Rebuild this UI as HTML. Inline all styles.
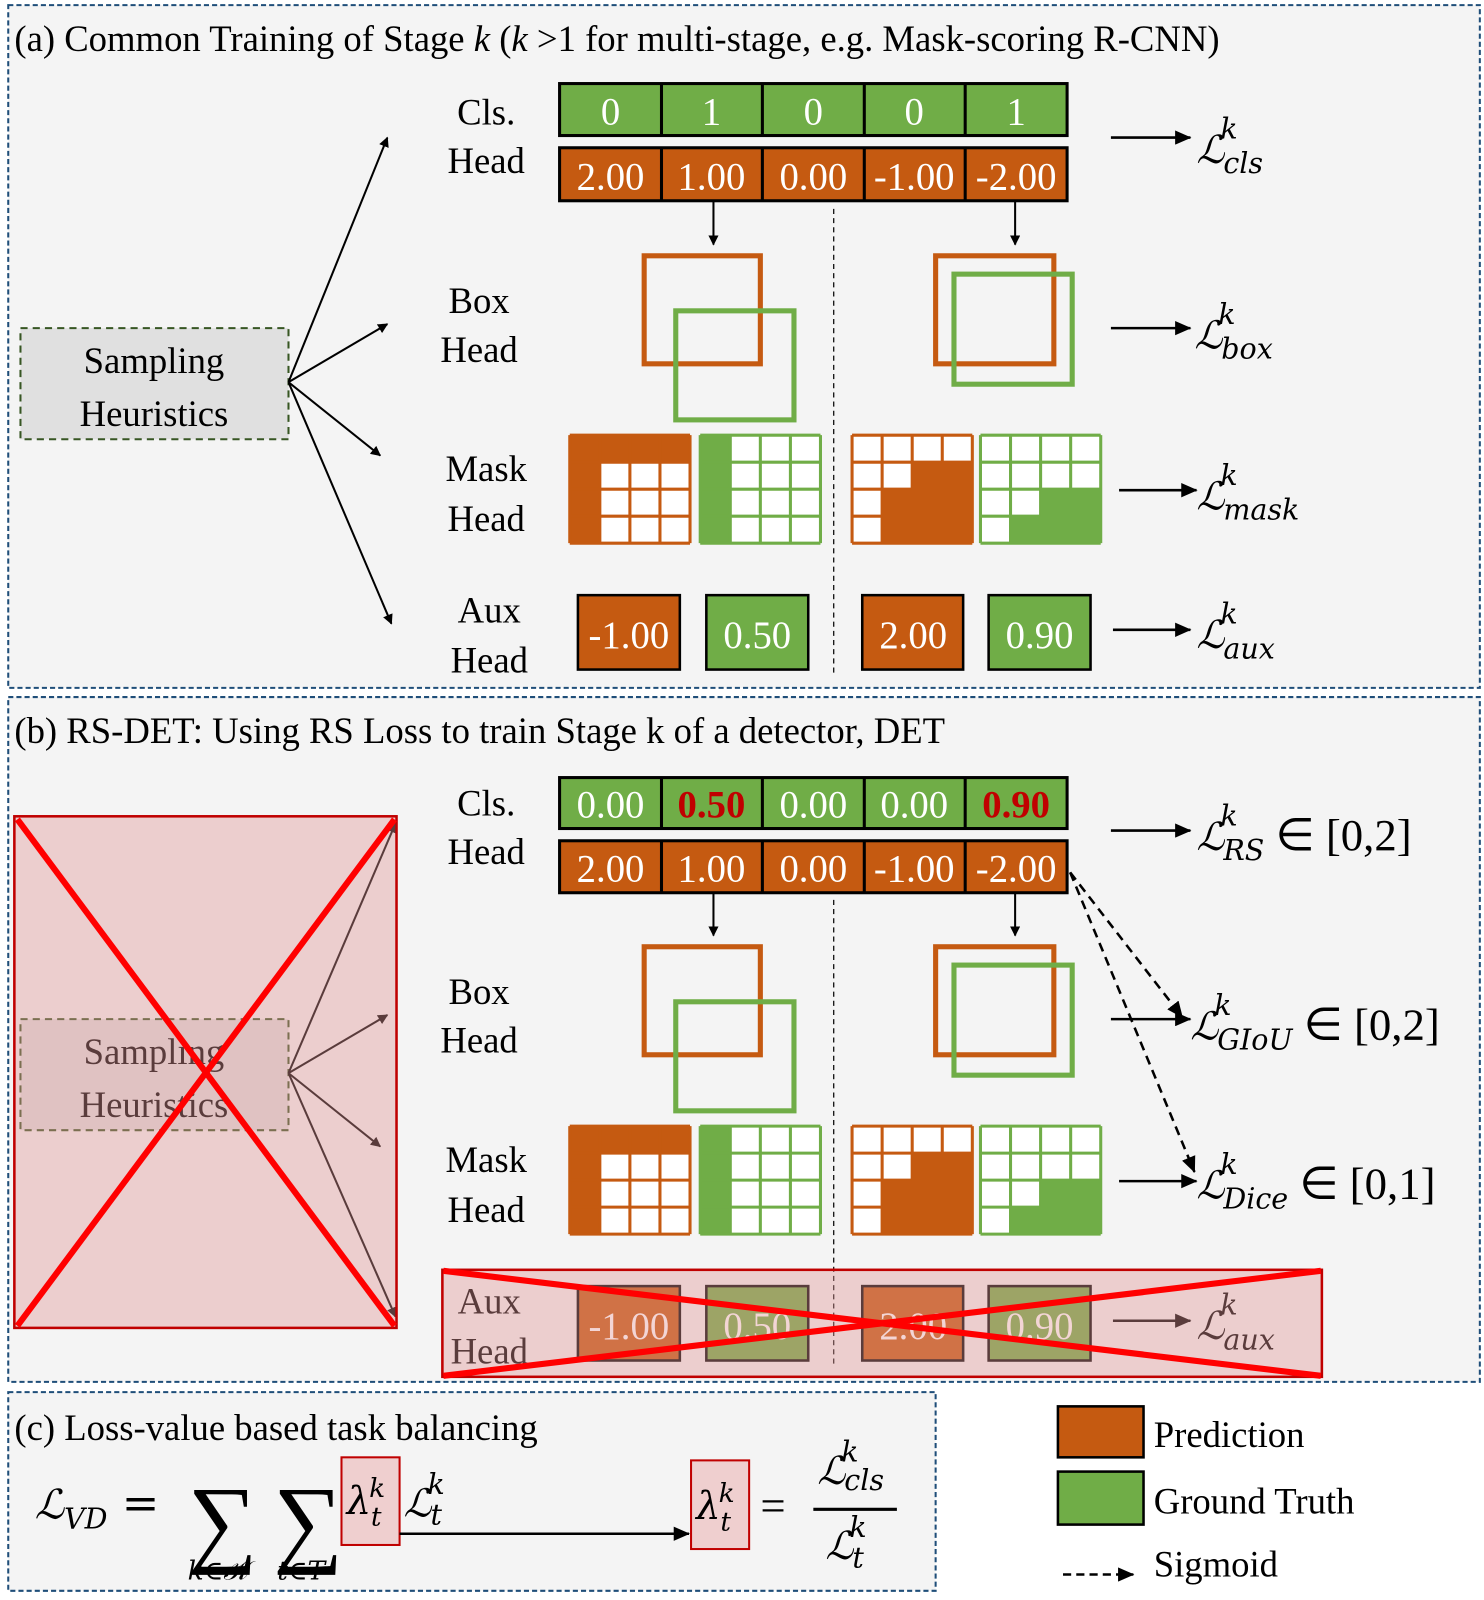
<!DOCTYPE html>
<html><head><meta charset="utf-8"><style>
html,body{margin:0;padding:0;background:#fff;}
svg{display:block;}
text{font-family:"Liberation Serif","DejaVu Serif",serif;}
.t{font-size:36px;fill:#000;}
.w{font-size:38px;fill:#fff;text-anchor:middle;}
.lbl{font-size:36px;fill:#000;text-anchor:middle;}
.m{font-family:"DejaVu Serif","Liberation Serif",serif;font-style:italic;fill:#000;}
</style></head><body>
<svg width="1484" height="1600" viewBox="0 0 1456 1570" xmlns="http://www.w3.org/2000/svg">
<defs>
<marker id="ah" markerWidth="10" markerHeight="10" refX="9" refY="5" orient="auto" markerUnits="userSpaceOnUse" viewBox="0 0 10 10"><path d="M0,0 L10,5 L0,10 z" fill="#000"/></marker>
<marker id="ah2" markerWidth="16" markerHeight="14" refX="15" refY="7" orient="auto" markerUnits="userSpaceOnUse" viewBox="0 0 16 14"><path d="M0,0 L16,7 L0,14 z" fill="#000"/></marker>
<g id="g1"><rect x="0" y="0" width="118" height="106" fill="#fff"/><rect x="0" y="0" width="118" height="26.5" fill="#c55a11"/><rect x="0" y="0" width="29.5" height="106" fill="#c55a11"/>
<path d="M0,0H118M0,26.5H118M0,53H118M0,79.5H118M0,106H118M0,0V106M29.5,0V106M59,0V106M88.5,0V106M118,0V106" stroke="#c55a11" stroke-width="3" fill="none"/></g>
<g id="g2"><rect x="0" y="0" width="118" height="106" fill="#fff"/><rect x="0" y="0" width="29.5" height="106" fill="#70ad47"/>
<path d="M0,0H118M0,26.5H118M0,53H118M0,79.5H118M0,106H118M0,0V106M29.5,0V106M59,0V106M88.5,0V106M118,0V106" stroke="#70ad47" stroke-width="3" fill="none"/></g>
<g id="g3"><rect x="0" y="0" width="118" height="106" fill="#fff"/><path d="M59,26.5H118V106H29.5V53H59z" fill="#c55a11"/>
<path d="M0,0H118M0,26.5H118M0,53H118M0,79.5H118M0,106H118M0,0V106M29.5,0V106M59,0V106M88.5,0V106M118,0V106" stroke="#c55a11" stroke-width="3" fill="none"/><path d="M59,26.5H118V106H29.5V53H59z" fill="#c55a11"/></g>
<g id="g4"><rect x="0" y="0" width="118" height="106" fill="#fff"/>
<path d="M0,0H118M0,26.5H118M0,53H118M0,79.5H118M0,106H118M0,0V106M29.5,0V106M59,0V106M88.5,0V106M118,0V106" stroke="#70ad47" stroke-width="3" fill="none"/><path d="M59,53H118V106H29.5V79.5H59z" fill="#70ad47"/></g>
<g id="boxes">
<rect x="632" y="251" width="114" height="106" fill="none" stroke="#c55a11" stroke-width="5"/>
<rect x="663" y="305" width="116" height="107" fill="none" stroke="#70ad47" stroke-width="5"/>
<rect x="918" y="251" width="116" height="106" fill="none" stroke="#c55a11" stroke-width="5"/>
<rect x="936" y="269" width="116" height="108" fill="none" stroke="#70ad47" stroke-width="5"/>
<use href="#g1" x="559" y="427"/><use href="#g2" x="687" y="427"/><use href="#g3" x="836" y="427"/><use href="#g4" x="962" y="427"/>
<line x1="700" y1="197" x2="700" y2="240" stroke="#000" stroke-width="2" marker-end="url(#ah)"/>
<line x1="996" y1="197" x2="996" y2="240" stroke="#000" stroke-width="2" marker-end="url(#ah)"/>
<line x1="818" y1="205" x2="818" y2="660" stroke="#000" stroke-width="1.2" stroke-dasharray="5,4"/>
</g>
</defs>

<!-- Panel a -->
<rect x="8" y="5" width="1444" height="670" fill="#f4f4f4" stroke="#1f4e79" stroke-width="2" stroke-dasharray="5,3"/>
<text class="t" x="14" y="50">(a) Common Training of Stage <tspan font-style="italic">k</tspan> (<tspan font-style="italic">k</tspan> &gt;1 for multi-stage, e.g. Mask-scoring R-CNN)</text>

<rect x="20" y="322" width="263" height="109" fill="#e0e0e0" stroke="#375623" stroke-width="2" stroke-dasharray="7,5"/>
<text class="lbl" x="151" y="366">Sampling</text><text class="lbl" x="151" y="418">Heuristics</text>
<g stroke="#000" stroke-width="2" marker-end="url(#ah)">
<line x1="283" y1="375" x2="380" y2="135"/><line x1="283" y1="375" x2="380" y2="318"/>
<line x1="283" y1="375" x2="373" y2="447"/><line x1="283" y1="375" x2="384" y2="612"/></g>

<text class="lbl" x="477" y="122">Cls.</text><text class="lbl" x="477" y="170">Head</text>
<text class="lbl" x="470" y="307">Box</text><text class="lbl" x="470" y="355">Head</text>
<text class="lbl" x="477" y="472">Mask</text><text class="lbl" x="477" y="521">Head</text>
<text class="lbl" x="480" y="611">Aux</text><text class="lbl" x="480" y="660">Head</text>

<g stroke="#000" stroke-width="3">
<rect x="549" y="82" width="498" height="51" fill="#70ad47"/>
<line x1="649" y1="82" x2="649" y2="133"/><line x1="748" y1="82" x2="748" y2="133"/><line x1="848" y1="82" x2="848" y2="133"/><line x1="947" y1="82" x2="947" y2="133"/>
<rect x="549" y="145" width="498" height="52" fill="#c55a11"/>
<line x1="649" y1="145" x2="649" y2="197"/><line x1="748" y1="145" x2="748" y2="197"/><line x1="848" y1="145" x2="848" y2="197"/><line x1="947" y1="145" x2="947" y2="197"/>
</g>
<text class="w" x="599" y="122">0</text><text class="w" x="698" y="122">1</text><text class="w" x="798" y="122">0</text><text class="w" x="897" y="122">0</text><text class="w" x="997" y="122">1</text>
<text class="w" x="599" y="186">2.00</text><text class="w" x="698" y="186">1.00</text><text class="w" x="798" y="186">0.00</text><text class="w" x="897" y="186">-1.00</text><text class="w" x="997" y="186">-2.00</text>
<use href="#boxes"/>
<g stroke="#000" stroke-width="2.5"><rect x="567" y="584" width="100" height="73" fill="#c55a11"/><rect x="693" y="584" width="100" height="73" fill="#70ad47"/><rect x="846" y="584" width="99" height="73" fill="#c55a11"/><rect x="970" y="584" width="100" height="73" fill="#70ad47"/></g>
<text class="w" x="617" y="636">-1.00</text><text class="w" x="743" y="636">0.50</text><text class="w" x="896" y="636">2.00</text><text class="w" x="1020" y="636">0.90</text>

<g stroke="#000" stroke-width="2.5" marker-end="url(#ah2)">
<line x1="1090" y1="135" x2="1168" y2="135"/><line x1="1090" y1="322" x2="1168" y2="322"/>
<line x1="1098" y1="481" x2="1174" y2="481"/><line x1="1092" y1="618" x2="1168" y2="618"/></g>
<text class="m" font-size="38" x="1174" y="160">ℒ<tspan font-size="28" dy="-24" dx="-4">k</tspan><tspan font-size="28" dx="-14" dy="34">cls</tspan></text>
<text class="m" font-size="38" x="1172" y="342">ℒ<tspan font-size="28" dy="-24" dx="-4">k</tspan><tspan font-size="28" dx="-14" dy="34">box</tspan></text>
<text class="m" font-size="38" x="1174" y="500">ℒ<tspan font-size="28" dy="-24" dx="-4">k</tspan><tspan font-size="28" dx="-14" dy="34">mask</tspan></text>
<text class="m" font-size="38" x="1174" y="636">ℒ<tspan font-size="28" dy="-24" dx="-4">k</tspan><tspan font-size="28" dx="-14" dy="34">aux</tspan></text>

<!-- Panel b -->
<rect x="8" y="684" width="1444" height="672" fill="#f4f4f4" stroke="#1f4e79" stroke-width="2" stroke-dasharray="5,3"/>
<text class="t" x="14" y="729">(b) RS-DET: Using RS Loss to train Stage k of a detector, DET</text>

<rect x="20" y="1000" width="263" height="109" fill="#e0e0e0" stroke="#375623" stroke-width="2" stroke-dasharray="7,5"/>
<text class="lbl" x="151" y="1044">Sampling</text><text class="lbl" x="151" y="1096">Heuristics</text>
<g stroke="#000" stroke-width="2" marker-end="url(#ah)">
<line x1="283" y1="1053" x2="388" y2="808"/><line x1="283" y1="1053" x2="380" y2="996"/>
<line x1="283" y1="1053" x2="373" y2="1125"/><line x1="283" y1="1053" x2="388" y2="1292"/></g>

<text class="lbl" x="477" y="800">Cls.</text><text class="lbl" x="477" y="848">Head</text>
<text class="lbl" x="470" y="985">Box</text><text class="lbl" x="470" y="1033">Head</text>
<text class="lbl" x="477" y="1150">Mask</text><text class="lbl" x="477" y="1199">Head</text>
<text class="lbl" x="480" y="1289">Aux</text><text class="lbl" x="480" y="1338">Head</text>

<g stroke="#000" stroke-width="3">
<rect x="549" y="763" width="498" height="50" fill="#70ad47"/>
<line x1="649" y1="763" x2="649" y2="813"/><line x1="748" y1="763" x2="748" y2="813"/><line x1="848" y1="763" x2="848" y2="813"/><line x1="947" y1="763" x2="947" y2="813"/>
<rect x="549" y="825" width="498" height="51" fill="#c55a11"/>
<line x1="649" y1="825" x2="649" y2="876"/><line x1="748" y1="825" x2="748" y2="876"/><line x1="848" y1="825" x2="848" y2="876"/><line x1="947" y1="825" x2="947" y2="876"/>
</g>
<text class="w" x="599" y="802">0.00</text><text class="w" x="698" y="802" fill="#c00000" style="fill:#c00000;font-weight:bold">0.50</text><text class="w" x="798" y="802">0.00</text><text class="w" x="897" y="802">0.00</text><text class="w" x="997" y="802" style="fill:#c00000;font-weight:bold">0.90</text>
<text class="w" x="599" y="865">2.00</text><text class="w" x="698" y="865">1.00</text><text class="w" x="798" y="865">0.00</text><text class="w" x="897" y="865">-1.00</text><text class="w" x="997" y="865">-2.00</text>
<use href="#boxes" y="678"/>
<g stroke="#000" stroke-width="2.5"><rect x="567" y="1262" width="100" height="73" fill="#c55a11"/><rect x="693" y="1262" width="100" height="73" fill="#70ad47"/><rect x="846" y="1262" width="99" height="73" fill="#c55a11"/><rect x="970" y="1262" width="100" height="73" fill="#70ad47"/></g>
<text class="w" x="617" y="1314">-1.00</text><text class="w" x="743" y="1314">0.50</text><text class="w" x="896" y="1314">2.00</text><text class="w" x="1020" y="1314">0.90</text>

<g stroke="#000" stroke-width="2.5" marker-end="url(#ah2)">
<line x1="1090" y1="815" x2="1168" y2="815"/><line x1="1090" y1="1000" x2="1168" y2="1000"/>
<line x1="1098" y1="1159" x2="1174" y2="1159"/><line x1="1092" y1="1296" x2="1168" y2="1296"/></g>
<g stroke="#000" stroke-width="2.5" stroke-dasharray="9,6" fill="none">
<line x1="1050" y1="856" x2="1160" y2="998" marker-end="url(#ah2)"/>
<line x1="1050" y1="856" x2="1172" y2="1150" marker-end="url(#ah2)"/></g>
<text class="m" font-size="38" x="1174" y="834">ℒ<tspan font-size="28" dy="-24" dx="-4">k</tspan><tspan font-size="28" dx="-14" dy="34">RS</tspan><tspan font-style="normal" font-size="44" dy="-10" font-family="Liberation Serif"> ∈ [0,2]</tspan></text>
<text class="m" font-size="38" x="1168" y="1020">ℒ<tspan font-size="28" dy="-24" dx="-4">k</tspan><tspan font-size="28" dx="-14" dy="34">GIoU</tspan><tspan font-style="normal" font-size="44" dy="-10" font-family="Liberation Serif"> ∈ [0,2]</tspan></text>
<text class="m" font-size="38" x="1174" y="1176">ℒ<tspan font-size="28" dy="-24" dx="-4">k</tspan><tspan font-size="28" dx="-14" dy="34">Dice</tspan><tspan font-style="normal" font-size="44" dy="-10" font-family="Liberation Serif"> ∈ [0,1]</tspan></text>
<text class="m" font-size="38" x="1174" y="1314">ℒ<tspan font-size="28" dy="-24" dx="-4">k</tspan><tspan font-size="28" dx="-14" dy="34">aux</tspan></text>

<!-- overlays -->
<rect x="14" y="801" width="375" height="502" fill="rgba(225,150,150,0.4)" stroke="#c00000" stroke-width="2.5"/>
<line x1="17" y1="804" x2="387" y2="1301" stroke="#ff0000" stroke-width="6"/>
<line x1="387" y1="804" x2="17" y2="1301" stroke="#ff0000" stroke-width="6"/>
<rect x="434" y="1246" width="863" height="105" fill="rgba(225,150,150,0.4)" stroke="#c00000" stroke-width="2.5"/>
<line x1="435" y1="1247" x2="1296" y2="1350" stroke="#ff0000" stroke-width="6"/>
<line x1="1296" y1="1247" x2="435" y2="1350" stroke="#ff0000" stroke-width="6"/>

<!-- Panel c -->
<rect x="8" y="1366" width="910" height="195" fill="#f4f4f4" stroke="#1f4e79" stroke-width="2" stroke-dasharray="5,3"/>
<text class="t" x="14" y="1413">(c) Loss-value based task balancing</text>
<text class="m" font-size="40" x="34" y="1490">ℒ<tspan font-size="28" dy="10">VD</tspan><tspan font-style="normal" font-size="44" dy="-10"> =</tspan></text>
<text font-family="DejaVu Serif,serif" font-size="96" x="184" y="1525">∑</text>
<text font-family="DejaVu Serif,serif" font-size="96" x="268" y="1525">∑</text>
<text class="m" font-size="26" x="184" y="1550">k∈𝒦</text>
<text class="m" font-size="26" x="272" y="1550">t∈T</text>
<rect x="335" y="1430" width="57" height="86" fill="#efcfcf" stroke="#c00000" stroke-width="2"/>
<text class="m" font-size="38" x="340" y="1485">λ<tspan font-size="26" dy="-16" dx="-2">k</tspan><tspan font-size="26" dx="-14" dy="28">t</tspan></text>
<text class="m" font-size="38" x="396" y="1488">ℒ<tspan font-size="28" dy="-22" dx="-4">k</tspan><tspan font-size="28" dx="-14" dy="30">t</tspan></text>
<line x1="392" y1="1505" x2="676" y2="1505" stroke="#000" stroke-width="2.5" marker-end="url(#ah2)"/>
<rect x="678" y="1433" width="57" height="87" fill="#efcfcf" stroke="#c00000" stroke-width="2"/>
<text class="m" font-size="38" x="683" y="1490">λ<tspan font-size="26" dy="-16" dx="-2">k</tspan><tspan font-size="26" dx="-14" dy="28">t</tspan></text>
<text font-family="Liberation Serif,serif" font-size="44" x="746" y="1492">=</text>
<line x1="798" y1="1481" x2="880" y2="1481" stroke="#000" stroke-width="3"/>
<text class="m" font-size="38" x="802" y="1456">ℒ<tspan font-size="28" dy="-22" dx="-4">k</tspan><tspan font-size="28" dx="-14" dy="28">cls</tspan></text>
<text class="m" font-size="38" x="810" y="1530">ℒ<tspan font-size="28" dy="-22" dx="-4">k</tspan><tspan font-size="28" dx="-14" dy="30">t</tspan></text>

<!-- Legend -->
<rect x="1038" y="1380" width="84" height="50" fill="#c55a11" stroke="#000" stroke-width="2.5"/>
<rect x="1038" y="1444" width="84" height="52" fill="#70ad47" stroke="#000" stroke-width="2.5"/>
<text class="t" x="1132" y="1420">Prediction</text>
<text class="t" x="1132" y="1485">Ground Truth</text>
<line x1="1043" y1="1545" x2="1112" y2="1545" stroke="#000" stroke-width="2.5" stroke-dasharray="8,5" marker-end="url(#ah2)"/>
<text class="t" x="1132" y="1547">Sigmoid</text>
</svg>
</body></html>
